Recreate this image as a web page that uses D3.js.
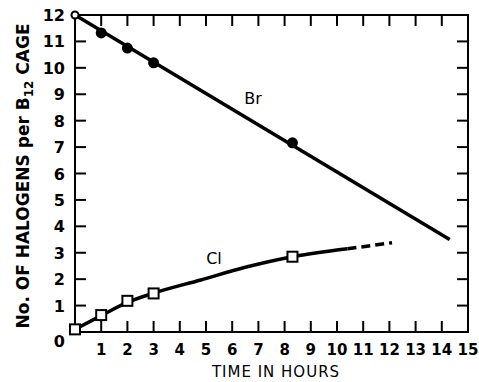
<!DOCTYPE html>
<html>
<head>
<meta charset="utf-8">
<script src="https://cdn.jsdelivr.net/npm/d3@7"></script>
<style>
  body { margin: 0; background: #fff; }
  text { font-family: "DejaVu Sans", "Liberation Sans", sans-serif; fill: #000; }
</style>
</head>
<body>
<div id="chart"></div>
<script>
// data --------------------------------------------------------------------------
const brTime = [0, 1, 2, 3, 8.3];
const brCount = [12, 11.32, 10.75, 10.19, 7.16];
const brLineEnd = [14.3, 3.5];          // end of the straight fit line
const clTime = [0, 1, 2, 3, 8.3];
const clCount = [0.1, 0.64, 1.18, 1.46, 2.85];
const clFitSolid = [[0, 0.1], [1, 0.62], [2, 1.12], [3, 1.47], [4.8, 1.97], [6.5, 2.45], [8.3, 2.85], [10.4, 3.15]];
const clFitDashed = [[10.4, 3.15], [12.1, 3.38]];
const xTicks = d3.range(1, 16);
const yTicks = d3.range(0, 13);

// frame --------------------------------------------------------------------------
const W = 479, H = 382;
const x = d3.scaleLinear().domain([0, 15]).range([75, 468]);
const y = d3.scaleLinear().domain([0, 12]).range([332, 15]);

const svg = d3.select('#chart').append('svg')
  .attr('width', W)
  .attr('height', H);

// box
svg.append('rect')
  .attr('x', x(0)).attr('y', y(12))
  .attr('width', x(15) - x(0)).attr('height', y(0) - y(12))
  .attr('fill', 'none').attr('stroke', '#000').attr('stroke-width', 2);

// inward ticks on all four sides
const tickLen = 11;
const tk = svg.append('g').attr('stroke', '#000').attr('stroke-width', 2);
tk.selectAll('.xb').data(xTicks.slice(0, -1)).enter().append('line')
  .attr('x1', d => x(d)).attr('x2', d => x(d))
  .attr('y1', y(0)).attr('y2', y(0) - tickLen);
tk.selectAll('.xt').data(xTicks.slice(0, -1)).enter().append('line')
  .attr('x1', d => x(d)).attr('x2', d => x(d))
  .attr('y1', y(12)).attr('y2', y(12) + tickLen);
tk.selectAll('.yl').data(yTicks.slice(1, -1)).enter().append('line')
  .attr('x1', x(0)).attr('x2', x(0) + tickLen)
  .attr('y1', d => y(d)).attr('y2', d => y(d));
tk.selectAll('.yr').data(yTicks.slice(1, -1)).enter().append('line')
  .attr('x1', x(15)).attr('x2', x(15) - tickLen)
  .attr('y1', d => y(d)).attr('y2', d => y(d));

// tick labels
svg.append('g').selectAll('text').data(xTicks).enter().append('text')
  .attr('x', d => x(d)).attr('y', y(0) + 23)
  .attr('text-anchor', 'middle')
  .attr('font-size', 15).attr('font-weight', 'bold')
  .text(d => d);
svg.append('g').selectAll('text').data(yTicks).enter().append('text')
  .attr('x', x(0) - 10).attr('y', d => d === 0 ? y(d) + 15 : y(d) + 6)
  .attr('text-anchor', 'end')
  .attr('font-size', 16).attr('font-weight', 'bold')
  .text(d => d);

// axis titles
svg.append('text')
  .attr('x', 276).attr('y', 377)
  .attr('text-anchor', 'middle')
  .attr('font-size', 15).attr('letter-spacing', 1)
  .text('TIME IN HOURS');
const yTitle = svg.append('text')
  .attr('transform', 'translate(29,176) rotate(-90)')
  .attr('text-anchor', 'middle')
  .attr('font-size', 17).attr('font-weight', 'bold');
yTitle.append('tspan').text('No. OF HALOGENS per B');
yTitle.append('tspan').attr('font-size', 12).attr('dy', 4).text('12');
yTitle.append('tspan').attr('dy', -4).text(' CAGE');

// Br series ------------------------------------------------------------------------
const line = d3.line().x(d => x(d[0])).y(d => y(d[1]));
svg.append('path')
  .datum([[brTime[0], brCount[0]], brLineEnd])
  .attr('d', line)
  .attr('fill', 'none').attr('stroke', '#000').attr('stroke-width', 3.5);
svg.append('g').selectAll('circle').data(brTime).enter().append('circle')
  .attr('cx', d => x(d)).attr('cy', (d, i) => y(brCount[i]))
  .attr('r', (d, i) => i === 0 ? 3.5 : 4.5)
  .attr('fill', (d, i) => i === 0 ? '#fff' : '#000')
  .attr('stroke', '#000').attr('stroke-width', 2);
svg.append('text')
  .attr('x', 253).attr('y', 104)
  .attr('text-anchor', 'middle')
  .attr('font-size', 16)
  .text('Br');

// Cl series ------------------------------------------------------------------------
const curve = d3.line().x(d => x(d[0])).y(d => y(d[1])).curve(d3.curveMonotoneX);
svg.append('path')
  .datum(clFitSolid)
  .attr('d', curve)
  .attr('fill', 'none').attr('stroke', '#000').attr('stroke-width', 3.5);
svg.append('path')
  .datum(clFitDashed)
  .attr('d', line)
  .attr('fill', 'none').attr('stroke', '#000').attr('stroke-width', 3.5)
  .attr('stroke-dasharray', '9,5');
const sq = 10;
svg.append('g').selectAll('rect').data(clTime).enter().append('rect')
  .attr('x', d => x(d) - sq / 2).attr('y', (d, i) => y(clCount[i]) - sq / 2)
  .attr('width', sq).attr('height', sq)
  .attr('fill', '#fff').attr('stroke', '#000').attr('stroke-width', 2);
svg.append('text')
  .attr('x', 214).attr('y', 264)
  .attr('text-anchor', 'middle')
  .attr('font-size', 16)
  .text('Cl');
</script>
</body>
</html>
